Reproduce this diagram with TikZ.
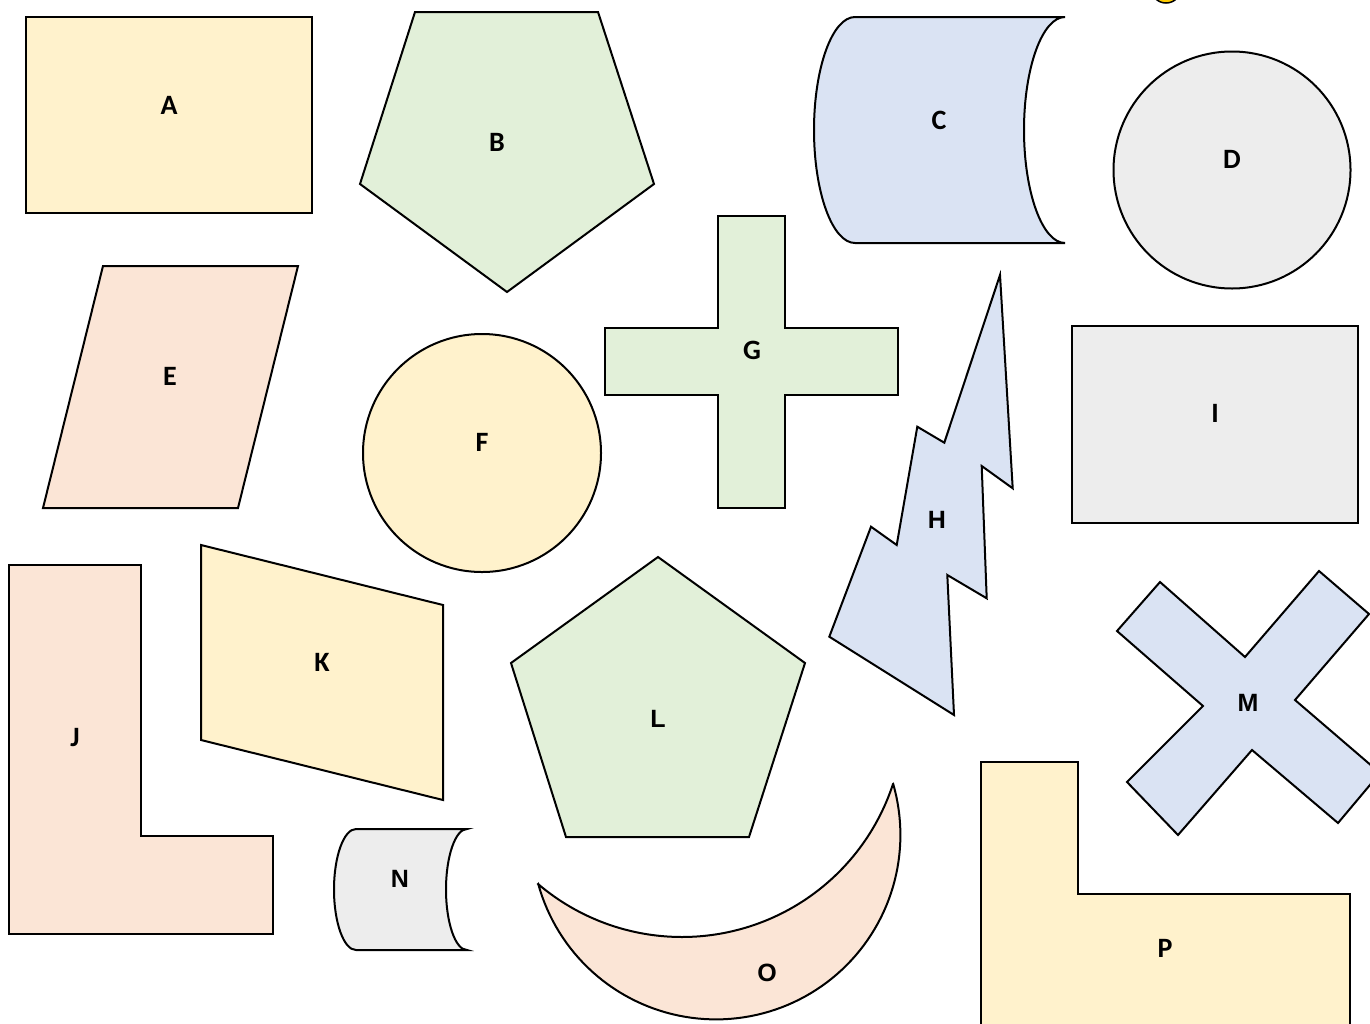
\documentclass[tikz,border=0pt]{standalone}
\usepackage{fontspec}
\setmainfont{Carlito}
\newfontfamily\arialf{Liberation Sans}
\definecolor{cyel}{HTML}{FFF2CC}
\definecolor{cgrn}{HTML}{E2F0D9}
\definecolor{cblu}{HTML}{DAE3F3}
\definecolor{cgry}{HTML}{EDEDED}
\definecolor{corg}{HTML}{FBE5D6}
\definecolor{cgold}{HTML}{FFCC00}
\begin{document}
\begin{tikzpicture}[x=1pt,y=-1pt,
  shp/.style={draw=black,line width=2pt,line join=miter},
  lblc/.style={font=\fontsize{28}{28}\selectfont\bfseries,inner sep=0pt},
  lbla/.style={font=\arialf\fontsize{25}{25}\selectfont\bfseries,inner sep=0pt}]
\useasboundingbox (0,0) rectangle (1370,1023);
\clip (0,0) rectangle (1370,1023);
% small gold circle at top
\draw[shp,fill=cgold,line width=1.5pt] (1166,-12) circle[radius=15];
% A
\draw[shp,fill=cyel] (26,17) rectangle (312,213);
\node[lblc] (A) at (169,105) {A};
% B
\draw[shp,fill=cgrn] (415,12) -- (598,12) -- (654,184) -- (507,292) -- (360,184) -- cycle;
\node[lblc] (B) at (497,142) {B};
% C
\draw[shp,fill=cblu] (855,17) -- (1065,17)
  .. controls (1042.4,17) and (1024,67.6) .. (1024,130)
  .. controls (1024,192.4) and (1042.4,243) .. (1065,243)
  -- (855,243)
  .. controls (832.4,243) and (814,192.4) .. (814,130)
  .. controls (814,67.6) and (832.4,17) .. (855,17) -- cycle;
\node[lblc] (C) at (939,120) {C};
% D
\draw[shp,fill=cgry] (1232,170) circle[radius=118.5];
\node[lblc] (D) at (1232,159) {D};
% E
\draw[shp,fill=corg] (103,266) -- (298,266) -- (238,508) -- (43,508) -- cycle;
\node[lblc] (E) at (170,376) {E};
% F
\draw[shp,fill=cyel] (482,453) circle[radius=119];
\node[lblc] (F) at (482,442) {F};
% G
\draw[shp,fill=cgrn] (718,216) -- (785,216) -- (785,328) -- (898,328) -- (898,395) -- (785,395) -- (785,508) -- (718,508) -- (718,395) -- (605,395) -- (605,328) -- (718,328) -- cycle;
\node[lblc] (G) at (752,350) {G};
% H
\draw[shp,fill=cblu] (1000,275) -- (1012.7,488.3) -- (981.7,466) -- (986.7,598.3) -- (947.3,575) -- (954,715) -- (829.3,636.7) -- (871,526.7) -- (896.7,545) -- (917.3,426.7) -- (944.3,442.7) -- cycle;
\node[lbla] (H) at (937,520) {H};
% I
\draw[shp,fill=cgry] (1072,326) rectangle (1358,523);
\node[lblc] (I) at (1215,413) {I};
% J
\draw[shp,fill=corg] (9,565) -- (141,565) -- (141,836) -- (273,836) -- (273,934) -- (9,934) -- cycle;
\node[lblc] (J) at (75,738) {J};
% K
\draw[shp,fill=cyel] (201,545) -- (443,605) -- (443,800) -- (201,740) -- cycle;
\node[lblc] (K) at (322,662) {K};
% L
\draw[shp,fill=cgrn] (658,557) -- (805,663) -- (749,837) -- (566,837) -- (511,663) -- cycle;
\node[lbla] (L) at (658,719) {L};
% M
\draw[shp,fill=cblu] (1160,582) -- (1245,657) -- (1319,571) -- (1369,614) -- (1295,700) -- (1380,773) -- (1338,823) -- (1252,750) -- (1178,835) -- (1127,782) -- (1203,706) -- (1117,631) -- cycle;
\node[lbla] (M) at (1248,703) {M};
% N
\draw[shp,fill=cgry] (356,829) -- (467,829)
  .. controls (455.4,829) and (446,856.3) .. (446,889.5)
  .. controls (446,922.7) and (455.4,950) .. (467,950)
  -- (356,950)
  .. controls (343.8,950) and (334,922.7) .. (334,889.5)
  .. controls (334,856.3) and (343.8,829) .. (356,829) -- cycle;
\node[lbla] (N) at (400,879) {N};
% O
\draw[shp,fill=corg] plot[domain=164.6:-16.1,samples=90] ({716+184.4*cos(\x)},{835+184.4*sin(\x)})
  -- plot[domain=18.1:130.4,samples=90] ({682+222*cos(\x)},{715+222*sin(\x)}) -- cycle;
\node[lbla] (O) at (767,973) {O};
% P
\draw[shp,fill=cyel] (981,762) -- (1078,762) -- (1078,894) -- (1350,894) -- (1350,1040) -- (981,1040) -- cycle;
\node[lblc] (P) at (1165,948) {P};
\end{tikzpicture}
\end{document}
